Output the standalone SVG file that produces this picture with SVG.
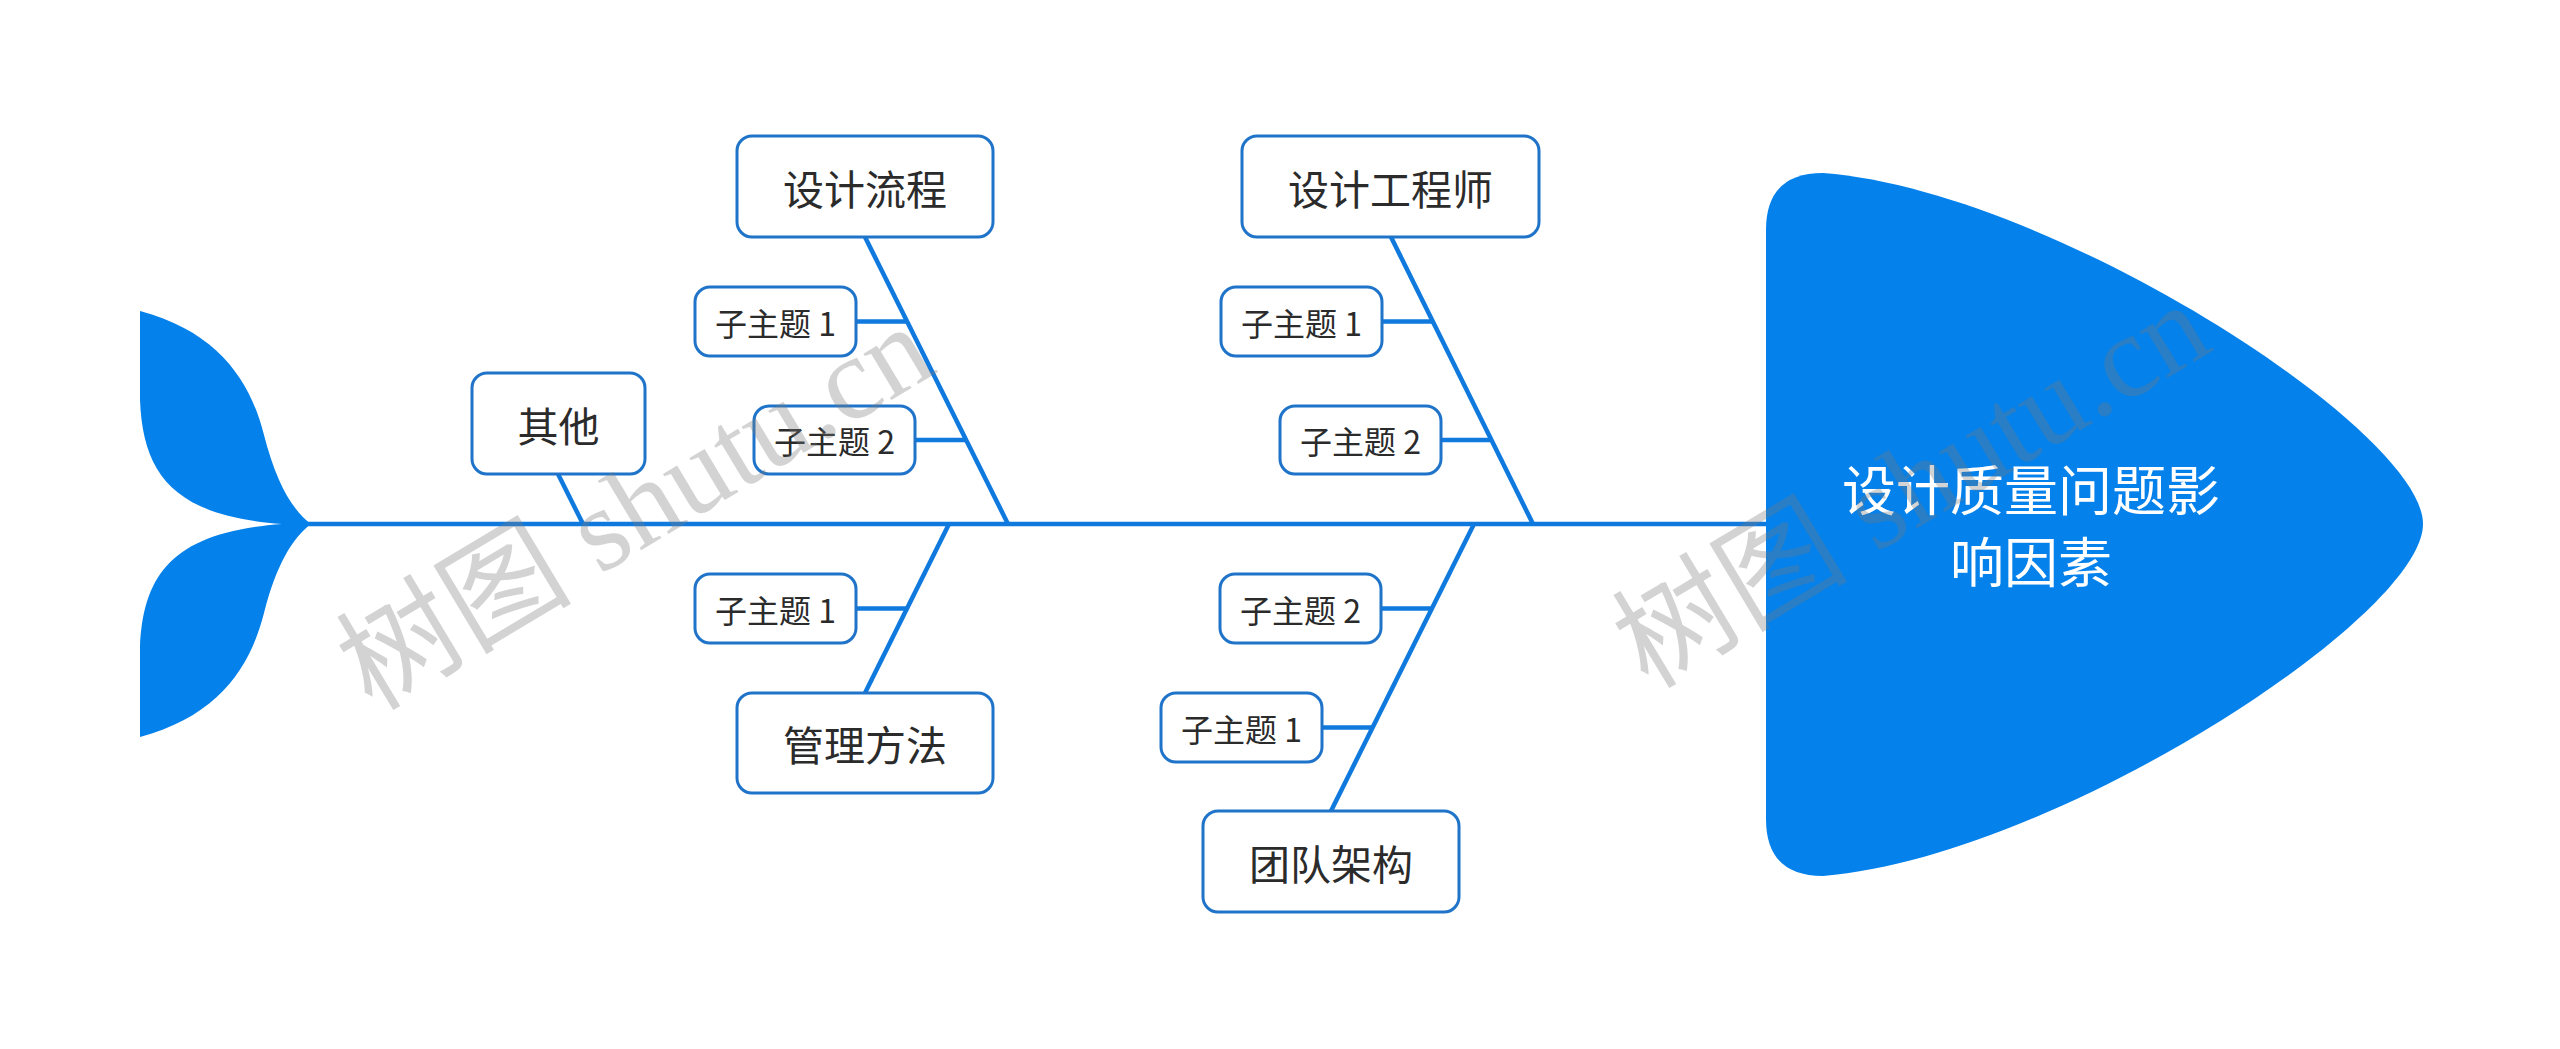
<svg xmlns="http://www.w3.org/2000/svg" width="2560" height="1049" viewBox="0 0 2560 1049">
<style>
.box{fill:#ffffff;stroke:#1f74c9;stroke-width:3}
.lbl{font-family:"Noto Sans CJK SC","Noto Sans",sans-serif;fill:#2b2b2b;text-anchor:middle;dominant-baseline:central}
.main{font-size:41px}
.sub{font-size:32px}
.bone{stroke:#0f79de;stroke-width:4.5;fill:none;stroke-linecap:butt}
.fill{fill:#0481ea}
.wm{font-family:"Liberation Serif","Noto Sans CJK SC",serif;font-size:118px;fill:#7a7a7a;fill-opacity:0.33}
</style>
<rect width="2560" height="1049" fill="#ffffff"/>
<g id="connectors">
<line class="bone" x1="305" y1="524" x2="1770" y2="524"/>
<line class="bone" x1="865" y1="237" x2="1008" y2="524"/>
<line class="bone" x1="856" y1="321.5" x2="907" y2="321.5"/>
<line class="bone" x1="915" y1="440" x2="966" y2="440"/>
<line class="bone" x1="1391" y1="237" x2="1533" y2="524"/>
<line class="bone" x1="1382" y1="321.5" x2="1433" y2="321.5"/>
<line class="bone" x1="1441" y1="440" x2="1491" y2="440"/>
<line class="bone" x1="949" y1="524" x2="865" y2="693"/>
<line class="bone" x1="856" y1="608.5" x2="907" y2="608.5"/>
<line class="bone" x1="1474" y1="524" x2="1331" y2="811"/>
<line class="bone" x1="1381" y1="608.5" x2="1432" y2="608.5"/>
<line class="bone" x1="1322" y1="727.5" x2="1373" y2="727.5"/>
<line class="bone" x1="558" y1="474" x2="583" y2="524"/>
</g>
<g id="tail">
<path class="fill" d="M140,311 C218,332 250,380 264,435 C276,482 292,510 311,524 C292,538 276,566 264,613 C250,668 218,716 140,737 L140,648 C143,572 175,532 282,524 C175,516 143,476 140,400 Z"/>
</g>
<g id="head">
<path class="fill" d="M1766,230 Q1766,173 1823,173 C2050,190 2423,430 2423,524 C2423,618 2050,858 1823,876 Q1766,876 1766,819 Z"/>
<text class="lbl" x="2031" y="487" style="font-size:54px;fill:#ffffff">设计质量问题影</text>
<text class="lbl" x="2031" y="559" style="font-size:54px;fill:#ffffff">响因素</text>
</g>
<g id="node-liucheng">
<rect class="box" x="737" y="136" width="256" height="101" rx="15"/>
<text class="lbl main" x="865" y="186.5">设计流程</text>
</g>
<g id="node-liucheng-1">
<rect class="box" x="695" y="287" width="161" height="69" rx="15"/>
<text class="lbl sub" x="775.5" y="321.5">子主题 1</text>
</g>
<g id="node-liucheng-2">
<rect class="box" x="754" y="406" width="161" height="68" rx="15"/>
<text class="lbl sub" x="834.5" y="440">子主题 2</text>
</g>
<g id="node-gongchengshi">
<rect class="box" x="1242" y="136" width="297" height="101" rx="15"/>
<text class="lbl main" x="1390.5" y="186.5">设计工程师</text>
</g>
<g id="node-gongchengshi-1">
<rect class="box" x="1221" y="287" width="161" height="69" rx="15"/>
<text class="lbl sub" x="1301.5" y="321.5">子主题 1</text>
</g>
<g id="node-gongchengshi-2">
<rect class="box" x="1280" y="406" width="161" height="68" rx="15"/>
<text class="lbl sub" x="1360.5" y="440">子主题 2</text>
</g>
<g id="node-qita">
<rect class="box" x="472" y="373" width="173" height="101" rx="15"/>
<text class="lbl main" x="558.5" y="423.5">其他</text>
</g>
<g id="node-guanli">
<rect class="box" x="737" y="693" width="256" height="100" rx="15"/>
<text class="lbl main" x="865" y="743">管理方法</text>
</g>
<g id="node-guanli-1">
<rect class="box" x="695" y="574" width="161" height="69" rx="15"/>
<text class="lbl sub" x="775.5" y="608.5">子主题 1</text>
</g>
<g id="node-tuandui">
<rect class="box" x="1203" y="811" width="256" height="101" rx="15"/>
<text class="lbl main" x="1331" y="861.5">团队架构</text>
</g>
<g id="node-tuandui-2">
<rect class="box" x="1220" y="574" width="161" height="69" rx="15"/>
<text class="lbl sub" x="1300.5" y="608.5">子主题 2</text>
</g>
<g id="node-tuandui-1">
<rect class="box" x="1161" y="693" width="161" height="69" rx="15"/>
<text class="lbl sub" x="1241.5" y="727.5">子主题 1</text>
</g>
<g id="watermark">
<text class="wm" transform="translate(372,712) rotate(-31)">树图 shutu.cn</text>
<text class="wm" transform="translate(1648,690) rotate(-31)">树图 shutu.cn</text>
</g>
</svg>
